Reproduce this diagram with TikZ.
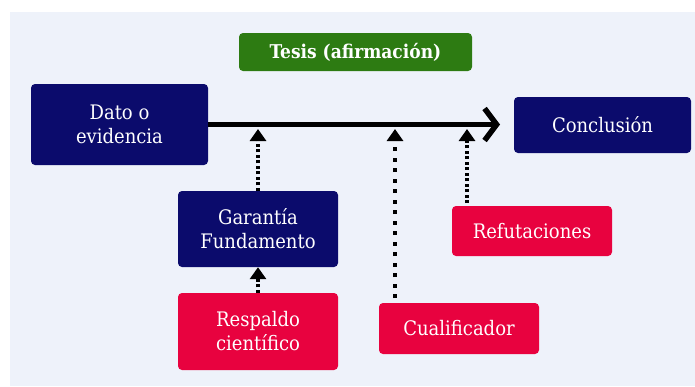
\documentclass[tikz,border=0pt]{standalone}
\usepackage{fontspec}
\setmainfont{DejaVu Serif Condensed}
\usetikzlibrary{arrows.meta}
\definecolor{navybox}{HTML}{0B0B6C}
\definecolor{redbox}{HTML}{E8023F}
\definecolor{greenbox}{HTML}{2D7B12}
\definecolor{panel}{HTML}{EEF2FA}
\tikzset{
  box/.style={rounded corners=4pt, text=white, align=center, inner sep=0pt,
    font=\fontsize{20}{24}\selectfont},
  navy/.style={box, fill=navybox},
  redb/.style={box, fill=redbox},
  greenb/.style={box, fill=greenbox, font=\fontsize{19}{23}\selectfont\bfseries},
  mainarrow/.style={line width=5.5pt, -{Straight Barb[length=12pt, width=32pt]}},
  dotarrow/.style={line width=4pt, dash pattern=on 3pt off 2.5pt,
    -{Triangle[width=16pt, length=12pt]}},
  dotarrowwide/.style={line width=4pt, dash pattern=on 4pt off 6.5pt,
    -{Triangle[width=16pt, length=12pt]}},
}
\begin{document}
\begin{tikzpicture}[x=1pt, y=-1pt]
\useasboundingbox (0,0) rectangle (695,386);
\fill[white] (0,0) rectangle (695,386);
\fill[panel] (10,12) rectangle (695,386);

\node[greenb, minimum width=233pt, minimum height=38pt] (tesis) at (355.5,52) {Tesis (afirmación)};
\node[navy, minimum width=177pt, minimum height=81pt] (dato) at (119.5,124.5) {Dato o\\evidencia};
\node[navy, minimum width=177pt, minimum height=56pt] (concl) at (602.5,125) {Conclusión};
\node[navy, minimum width=160pt, minimum height=76pt] (gar) at (258,229) {Garantía\\Fundamento};
\node[redb, minimum width=160pt, minimum height=50pt] (ref) at (532,231) {Refutaciones};
\node[redb, minimum width=160pt, minimum height=77pt] (resp) at (258,331.5) {Respaldo\\científico};
\node[redb, minimum width=160pt, minimum height=51pt] (cual) at (459,328.5) {Cualificador};

\coordinate (tip) at (500,124.5);
\coordinate (t1) at (258,129);
\coordinate (t2) at (395,129);
\coordinate (t3) at (467,129);
\coordinate (c0) at (395,298);
\coordinate (r0) at (467,203);

\draw[mainarrow] (dato.east) -- (tip);
\draw[dotarrow] (gar.north) -- (t1);
\draw[dotarrowwide] (c0) -- (t2);
\draw[dotarrow] (r0) -- (t3);
\draw[dotarrow] (resp.north) -- (gar.south);
\end{tikzpicture}
\end{document}
